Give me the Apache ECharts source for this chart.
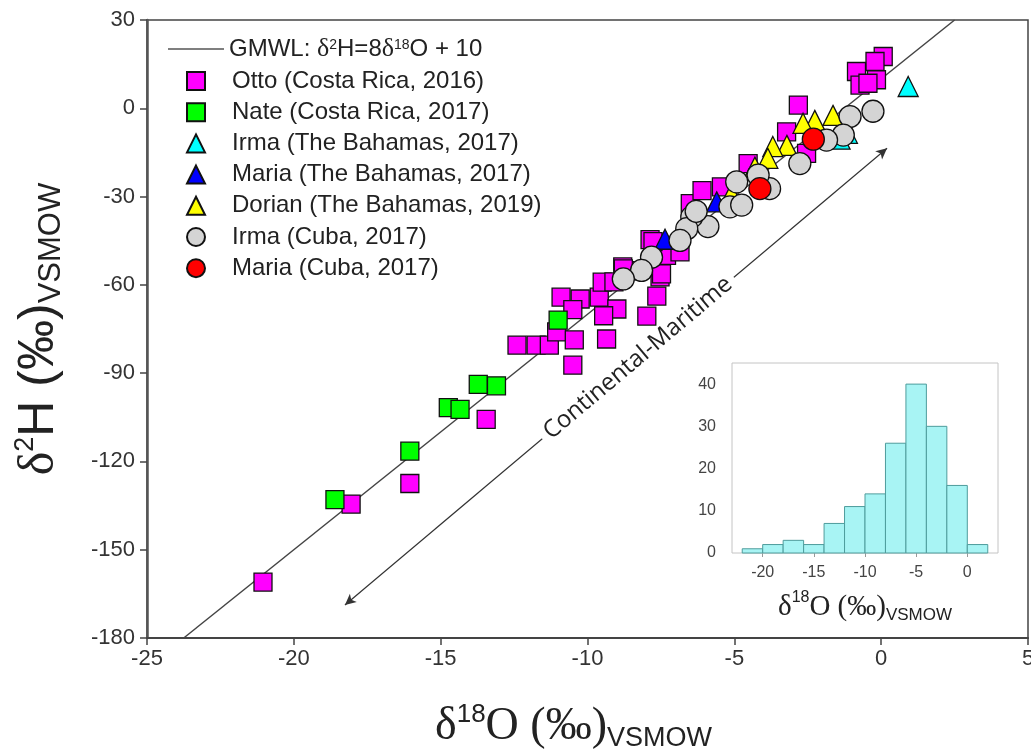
<!DOCTYPE html>
<html><head><meta charset="utf-8">
<script src="https://cdn.jsdelivr.net/npm/echarts@6/dist/echarts.min.js"></script>
<style>html,body{margin:0;padding:0;background:#fff}#c{width:1031px;height:752px}</style>
</head><body><div id="c"></div>
<script>
// ---- Data (δ18O, δ2H) ----
const ottoCR2016 = [
  [-21.05,-161],[-18.05,-134.5],[-16.05,-127.5],[-13.45,-105.7],
  [-12.4,-80.5],[-11.75,-80.5],[-11.3,-80.5],[-11.05,-76],[-10.45,-78.7],[-10.5,-87.3],
  [-10.9,-64.2],[-10.25,-64.8],[-10.5,-68.4],[-9.6,-64.2],[-9.5,-59.1],[-9.1,-59],
  [-9.0,-68.2],[-9.45,-70.5],[-9.35,-78.4],[-8.8,-53.9],[-8.55,-55.2],
  [-7.98,-70.6],[-7.64,-63.8],[-7.53,-57.3],[-7.48,-56.3],[-8.78,-54.6],
  [-7.87,-44.6],[-7.31,-50],[-7.77,-45.3],[-6.85,-48.8],[-6.5,-32.4],[-6.1,-28],
  [-5.44,-26.7],[-4.53,-18.8],[-3.22,-8],[-2.54,-15.3],[-2.82,1.1],
  [0.07,17.6],[-0.21,15.9],[-0.84,12.5],[-0.16,9.7],[-0.72,7.9],[-0.45,8.5]
];
const nateCR2017 = [
  [-18.6,-133],[-16.05,-116.5],[-14.74,-101.7],[-14.34,-102.3],[-13.72,-93.8],[-13.1,-94.3],[-11.0,-72]
];
const irmaBahamas2017 = [[0.92,7.4],[-1.4,-10.5],[-1.15,-8.5]];
const mariaBahamas2017 = [[-5.6,-31.8],[-7.36,-44.5]];
const dorianBahamas2019 = [
  [-1.64,-2.4],[-2.26,-4.1],[-2.66,-5.1],[-3.21,-12.6],[-3.69,-13],[-3.86,-17],[-5.1,-29],[-4.3,-20]
];
const irmaCuba2017 = [
  [-0.28,-1],[-1.06,-2.8],[-1.29,-9.1],[-1.86,-10.8],[-2.77,-18.8],[-3.8,-27.3],[-4.19,-22.7],
  [-4.92,-25],[-5.15,-33.5],[-4.75,-32.9],[-5.9,-40.2],[-6.45,-36.9],[-6.62,-40.9],[-6.85,-44.9],
  [-7.82,-50.6],[-8.16,-55.1],[-8.78,-58],[-6.3,-35]
];
const mariaCuba2017 = [[-2.31,-10.5],[-4.13,-27.3]];
// GMWL end points (δ2H = 8 δ18O + 10) across the plot
const gmwlLine = [[-23.75,-180],[2.5,30]];
// Continental-Maritime arrow ends and its label span
const arrowStart = [-18.26,-168.8];
const arrowEnd = [0.2,-13.6];
const arrowLabelFrom = [-12.28,-118.5];
const arrowLabelTo = [-4.28,-51.2];
// Inset histogram of δ18O
const histBinStart = [-22,-20,-18,-16,-14,-12,-10,-8,-6,-4,-2,0];
const histBinWidth = 2;
const histCounts = [1,2,3,2,7,11,14,26,40,30,16,2];
const insetXTicks = [-20,-15,-10,-5,0];
const insetYTicks = [0,10,20,30,40];

const pointNames = ['Otto (Costa Rica, 2016)','Nate (Costa Rica, 2017)','Irma (The Bahamas, 2017)',
  'Maria (The Bahamas, 2017)','Dorian (The Bahamas, 2019)','Irma (Cuba, 2017)','Maria (Cuba, 2017)'];

const chart = echarts.init(document.getElementById('c'), null, {renderer:'canvas'});
const border = {borderColor:'#111', borderWidth:1.3};
function sc(name, data, symbol, size, color){
  return {type:'scatter', name, data, symbol, symbolSize:size, xAxisIndex:0, yAxisIndex:0,
    itemStyle:Object.assign({color, opacity:1}, border), emphasis:{disabled:true}, z:3};
}
const titleRich = (base, h, sup, sub) => ({
  sup:{fontSize:sup, verticalAlign:'top', lineHeight:sup, fontFamily:'Liberation Sans', color:'#222'},
  sub:{fontSize:sub, verticalAlign:'bottom', lineHeight:sub, fontFamily:'Liberation Sans', color:'#222'},
  h:{fontSize:h, fontFamily:'Liberation Sans', color:'#222', lineHeight:base*1.1}
});
const legendText = {fontSize:24, color:'#222', fontFamily:'Liberation Sans', lineHeight:22};

const option = {
  animation:false,
  backgroundColor:'#fff',
  grid:[
    {left:147, top:20, right:3, bottom:114, show:true, borderColor:'#444', borderWidth:1.5,
      outerBoundsMode:'none', containLabel:false},
    {left:732, top:363, width:266, height:190, show:true, borderColor:'#c4c4c4', borderWidth:1,
      backgroundColor:'#fff', z:10, outerBoundsMode:'none', containLabel:false}
  ],
  legend:[
    {orient:'vertical', left:163, top:31, itemWidth:56, itemHeight:18, itemGap:8,
      selectedMode:false, data:[{name:'GMWL', icon:'path://M0,0L60,0L60,1.6L0,1.6Z'}],
      textStyle:Object.assign({}, legendText, {
        rich:{s:{fontSize:14, verticalAlign:'top', lineHeight:12, color:'#222', fontFamily:'Liberation Sans'},
              d:{fontSize:26, fontFamily:'Liberation Serif', color:'#222', lineHeight:22}}}),
      formatter:'GMWL: {d|δ}{s|2}H=8{d|δ}{s|18}O + 10'},
    {orient:'vertical', left:181, top:64, itemWidth:18, itemHeight:18, itemGap:7.2,
      selectedMode:false, data:pointNames,
      textStyle:Object.assign({}, legendText, {padding:[0,0,0,22]})}
  ],
  xAxis:[
    {type:'value', gridIndex:0, min:-25, max:5, interval:5,
      axisLine:{show:true, onZero:false, lineStyle:{color:'#444', width:2}},
      axisTick:{show:true, length:7, lineStyle:{color:'#444', width:1.5}},
      axisLabel:{fontSize:22, color:'#333', margin:10, fontFamily:'Liberation Sans'},
      splitLine:{show:false},
      name:'δ{sup|18}O (‰){sub|VSMOW}', nameLocation:'middle', nameGap:64,
      nameTextStyle:{fontSize:46, fontFamily:'Liberation Serif', color:'#222', lineHeight:50,
        padding:[0,28,0,0], rich:titleRich(46,46,26,27)}},
    {type:'value', gridIndex:1, min:-23, max:3,
      axisLine:{show:false}, splitLine:{show:false},
      axisTick:{show:true, length:4, customValues:insetXTicks, lineStyle:{color:'#999'}},
      axisLabel:{fontSize:16, color:'#444', margin:12, customValues:insetXTicks, fontFamily:'Liberation Sans'},
      name:'δ{sup|18}O (‰){sub|VSMOW}', nameLocation:'middle', nameGap:37,
      nameTextStyle:{fontSize:29, fontFamily:'Liberation Serif', color:'#222', lineHeight:34,
        rich:titleRich(29,29,16,17)}}
  ],
  yAxis:[
    {type:'value', gridIndex:0, min:-180, max:30, interval:30,
      axisLine:{show:true, onZero:false, lineStyle:{color:'#555', width:2.5}},
      axisTick:{show:true, length:7, lineStyle:{color:'#444', width:1.5}},
      axisLabel:{fontSize:22, color:'#333', margin:12, fontFamily:'Liberation Sans'},
      splitLine:{show:false},
      name:'δ{sup|2}{h|H (‰)}{sub|VSMOW}', nameLocation:'middle', nameGap:80,
      nameTextStyle:{fontSize:50, fontFamily:'Liberation Serif', color:'#222', lineHeight:52,
        rich:titleRich(50,50,27,31)}},
    {type:'value', gridIndex:1, min:0, max:45,
      axisLine:{show:false}, splitLine:{show:false}, axisTick:{show:false},
      axisLabel:{fontSize:16, color:'#444', margin:16, customValues:insetYTicks, fontFamily:'Liberation Sans'}}
  ],
  series:[
    {type:'line', name:'GMWL', data:gmwlLine, xAxisIndex:0, yAxisIndex:0, symbol:'none', z:2,
      lineStyle:{color:'#444', width:1.5}, itemStyle:{color:'#555'}, silent:true,
      markLine:{silent:true, symbol:['arrow','arrow'], symbolSize:[8,11], animation:false,
        lineStyle:{color:'#333', width:1.2, type:'solid'},
        label:{show:false},
        emphasis:{disabled:true},
        data:[
          [{coord:arrowStart},{coord:arrowEnd}],
          [{coord:arrowLabelFrom, symbol:'none', lineStyle:{color:'rgba(0,0,0,0)', opacity:1},
            label:{show:true, position:'middle', formatter:'Continental-Maritime', fontSize:24,
              fontFamily:'Open Sans', color:'#222', backgroundColor:'#fff', padding:[0,6], opacity:1,
              verticalAlign:'middle', distance:0}},
           {coord:arrowLabelTo, symbol:'none'}]
        ]}},
    sc('Otto (Costa Rica, 2016)', ottoCR2016, 'rect', 18, '#ff00ff'),
    sc('Nate (Costa Rica, 2017)', nateCR2017, 'rect', 18, '#00ff00'),
    sc('Irma (The Bahamas, 2017)', irmaBahamas2017, 'triangle', 20, '#00ffff'),
    sc('Maria (The Bahamas, 2017)', mariaBahamas2017, 'triangle', 20, '#0000ff'),
    sc('Dorian (The Bahamas, 2019)', dorianBahamas2019, 'triangle', 20, '#ffff00'),
    sc('Irma (Cuba, 2017)', irmaCuba2017, 'circle', 22, '#d4d4d4'),
    sc('Maria (Cuba, 2017)', mariaCuba2017, 'circle', 22, '#ff0000'),
    {type:'custom', name:'hist', xAxisIndex:1, yAxisIndex:1, z:12, silent:true,
      data: histBinStart.map((s,i)=>[s, s+histBinWidth, histCounts[i]]),
      encode:{x:[0,1], y:2},
      renderItem:(params, api)=>{
        const p0 = api.coord([api.value(0), api.value(2)]);
        const p1 = api.coord([api.value(1), 0]);
        return {type:'rect', shape:{x:p0[0], y:p0[1], width:p1[0]-p0[0], height:p1[1]-p0[1]},
          style:{fill:'#a8f4f4', stroke:'#4e9c9c', lineWidth:1}};
      }}
  ]
};
chart.setOption(option);
</script></body></html>
